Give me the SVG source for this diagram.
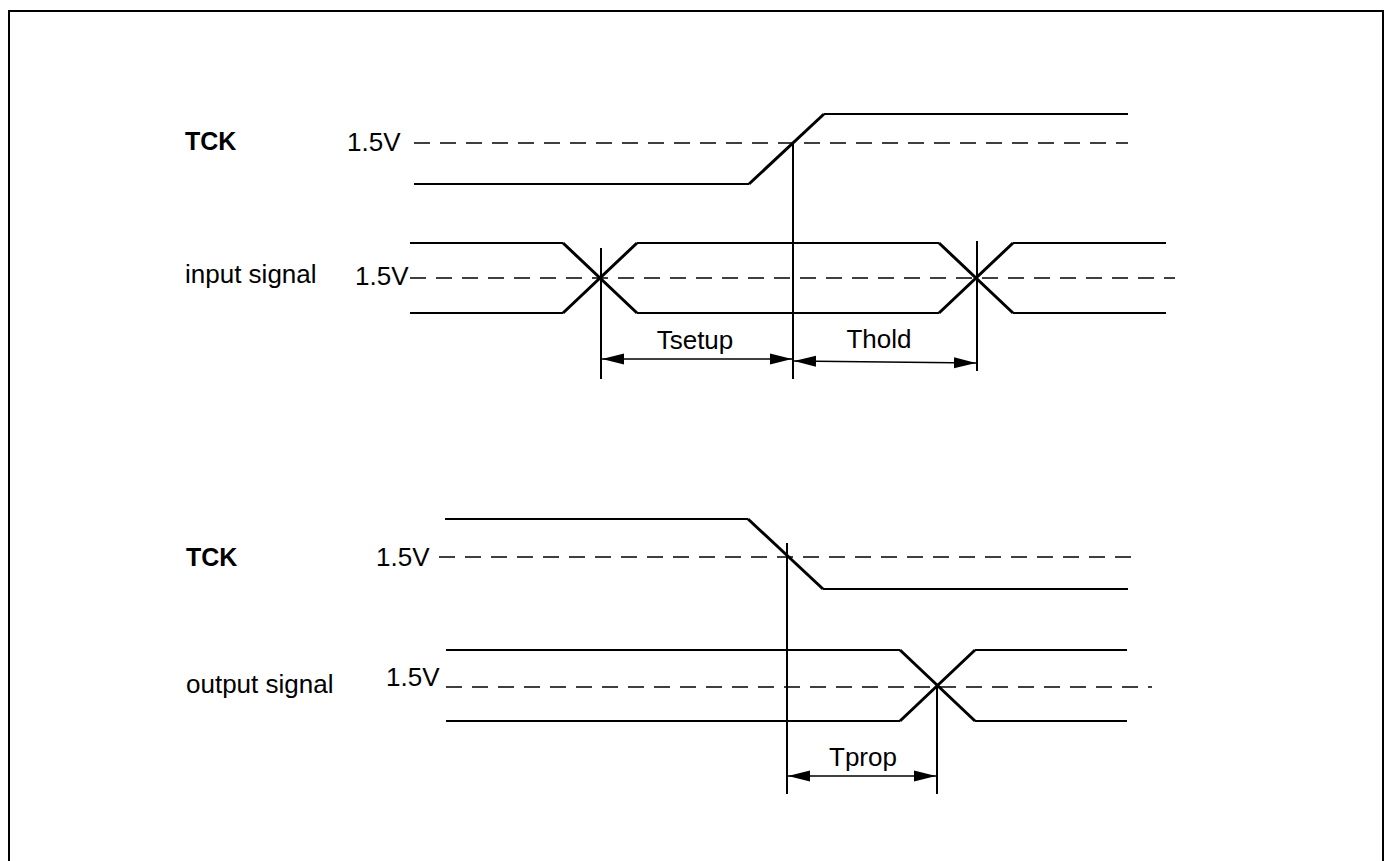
<svg xmlns="http://www.w3.org/2000/svg" width="1386" height="861" viewBox="0 0 1386 861">
<defs>
<style>
.bg{fill:#fff}
.frame{fill:none;stroke:#000;stroke-width:2}
.sig{fill:none;stroke:#000;stroke-width:2;stroke-linejoin:miter}
.edge{fill:none;stroke:#000;stroke-width:3}
.ref{fill:none;stroke:#000;stroke-width:1.5;stroke-dasharray:16 10}
.vl{fill:none;stroke:#000;stroke-width:2}
.dim{fill:none;stroke:#000;stroke-width:1.5}
.t{font-family:"Liberation Sans",Arial,Helvetica,sans-serif;font-size:26px;fill:#000}
.b{font-weight:bold;font-size:25px}
</style>
<marker id="ah" markerUnits="userSpaceOnUse" markerWidth="24" markerHeight="12" refX="22" refY="6" orient="auto-start-reverse">
<path d="M0,0.5 L22,6 L0,11.5 Z" fill="#000"/>
</marker>
</defs>
<rect class="bg" x="0" y="0" width="1386" height="861"/>
<path class="frame" d="M9,861 V11 H1383 V861"/>

<g id="tck1">
<text class="t b" x="185" y="150">TCK</text>
<text class="t" x="347" y="151">1.5V</text>
<line class="ref" x1="414" y1="143" x2="1128" y2="143"/>
<path class="sig" d="M414,184 H749"/>
<path class="edge" d="M749,184 L824,114"/>
<path class="sig" d="M824,114 H1128"/>
</g>

<g id="input">
<text class="t" x="185" y="283">input signal</text>
<text class="t" x="355" y="285">1.5V</text>
<line class="ref" x1="410" y1="278" x2="1175" y2="278"/>
<path class="sig" d="M410,243 H563 M637,243 H939 M1013,243 H1166"/>
<path class="sig" d="M410,313 H563 M637,313 H939 M1013,313 H1166"/>
<path class="edge" d="M563,243 L637,313 M563,313 L637,243 M939,243 L1013,313 M939,313 L1013,243"/>
</g>

<g id="tck2">
<text class="t b" x="186" y="566">TCK</text>
<text class="t" x="376" y="566">1.5V</text>
<line class="ref" x1="439" y1="557" x2="1135" y2="557"/>
<path class="sig" d="M445,519 H748"/>
<path class="edge" d="M748,519 L823,589"/>
<path class="sig" d="M823,589 H1128"/>
</g>

<g id="output">
<text class="t" x="186" y="693">output signal</text>
<text class="t" x="386" y="686">1.5V</text>
<line class="ref" x1="446" y1="687" x2="1152" y2="687"/>
<path class="sig" d="M446,650 H900 M975,650 H1127"/>
<path class="sig" d="M446,721 H900 M975,721 H1127"/>
<path class="edge" d="M900,650 L975,721 M900,721 L975,650"/>
</g>

<g id="connectors">
<line class="vl" x1="601" y1="248" x2="601" y2="379"/>
<line class="vl" x1="793" y1="143" x2="793" y2="379"/>
<line class="vl" x1="977" y1="241" x2="977" y2="371"/>
<line class="dim" x1="602" y1="359" x2="792" y2="359" marker-start="url(#ah)" marker-end="url(#ah)"/>
<line class="dim" x1="794" y1="361" x2="976" y2="363" marker-start="url(#ah)" marker-end="url(#ah)"/>
<line class="vl" x1="787" y1="543" x2="787" y2="794"/>
<line class="vl" x1="937" y1="687" x2="937" y2="794"/>
<line class="dim" x1="788" y1="776" x2="936" y2="776" marker-start="url(#ah)" marker-end="url(#ah)"/>
</g>

<g id="labels">
<text class="t" x="695" y="349" text-anchor="middle">Tsetup</text>
<text class="t" x="879" y="348" text-anchor="middle">Thold</text>
<text class="t" x="863" y="766" text-anchor="middle">Tprop</text>
</g>
</svg>
